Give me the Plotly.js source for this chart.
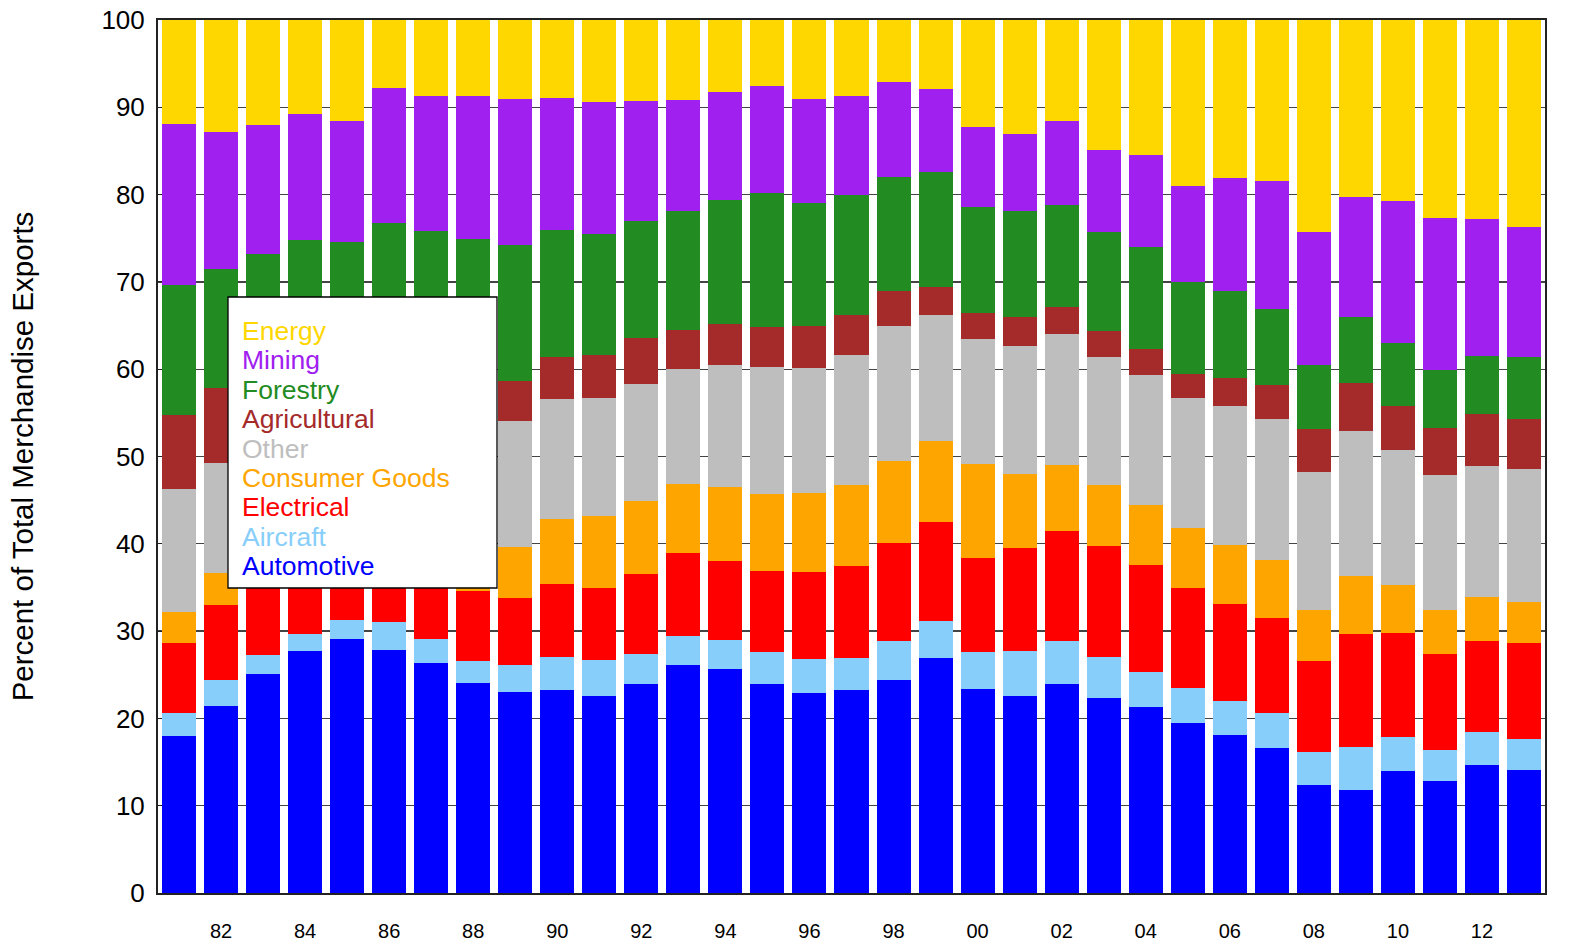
<!DOCTYPE html>
<html>
<head>
<meta charset="utf-8">
<script src="https://cdn.plot.ly/plotly-3.0.1.min.js"></script>
<style>html,body{margin:0;padding:0;background:#fff;}#chart{width:1569px;height:945px;}</style>
</head>
<body>
<div id="chart"></div>
<script>
const years = [1981,1982,1983,1984,1985,1986,1987,1988,1989,1990,1991,1992,1993,1994,1995,1996,1997,1998,1999,2000,2001,2002,2003,2004,2005,2006,2007,2008,2009,2010,2011,2012,2013];
const xTickYears = [1982,1984,1986,1988,1990,1992,1994,1996,1998,2000,2002,2004,2006,2008,2010,2012];
const xTickLabels = ["82","84","86","88","90","92","94","96","98","00","02","04","06","08","10","12"];

const automotive = [18.0,21.4,25.1,27.7,29.1,27.8,26.3,24.1,23.0,23.3,22.6,23.9,26.1,25.7,23.9,22.9,23.3,24.4,26.9,23.4,22.6,23.9,22.3,21.3,19.5,18.1,16.6,12.4,11.8,14.0,12.8,14.7,14.1];
const aircraft = [2.6,3.0,2.2,2.0,2.2,3.2,2.8,2.5,3.1,3.7,4.1,3.5,3.3,3.3,3.7,3.9,3.6,4.5,4.3,4.2,5.1,5.0,4.7,4.0,4.0,3.9,4.0,3.8,4.9,3.9,3.6,3.7,3.5];
const electrical = [8.0,8.6,8.2,6.8,5.7,5.5,6.4,8.0,7.7,8.4,8.2,9.1,9.5,9.0,9.3,10.0,10.6,11.2,11.3,10.8,11.8,12.6,12.7,12.3,11.4,11.1,10.9,10.4,13.0,11.9,11.0,10.5,11.0];
const consumerGoods = [3.6,3.7,3.0,3.0,3.0,3.5,3.5,3.9,5.8,7.4,8.3,8.4,8.0,8.5,8.8,9.0,9.2,9.4,9.3,10.7,8.5,7.5,7.0,6.8,6.9,6.8,6.6,5.8,6.6,5.5,5.0,5.0,4.7];
const other = [14.1,12.6,12.0,11.5,12.0,13.0,14.0,15.0,14.5,13.8,13.5,13.4,13.1,14.0,14.6,14.3,14.9,15.4,14.4,14.4,14.7,15.0,14.7,14.9,14.9,15.9,16.2,15.8,16.6,15.4,15.5,15.0,15.3];
const agricultural = [8.5,8.6,9.0,9.5,9.0,9.0,8.5,7.0,4.5,4.8,4.9,5.3,4.5,4.7,4.5,4.9,4.6,4.1,3.2,2.9,3.3,3.1,3.0,3.0,2.8,3.2,3.9,4.9,5.5,5.1,5.4,6.0,5.7];
const forestry = [14.8,13.6,13.7,14.3,13.6,14.7,14.3,14.4,15.6,14.6,13.9,13.4,13.6,14.2,15.4,14.0,13.7,13.0,13.2,12.2,12.1,11.7,11.3,11.7,10.5,10.0,8.7,7.4,7.6,7.2,6.6,6.6,7.1];
const mining = [18.5,15.7,14.8,14.4,13.8,15.5,15.5,16.4,16.7,15.1,15.1,13.7,12.7,12.4,12.2,11.9,11.4,10.9,9.5,9.2,8.8,9.6,9.4,10.5,11.0,12.9,14.7,15.2,13.7,16.3,17.4,15.7,14.9];
const energy = [11.9,12.8,12.0,10.8,11.6,7.8,8.7,8.7,9.1,8.9,9.4,9.3,9.2,8.2,7.6,9.1,8.7,7.1,7.9,12.2,13.1,11.6,14.9,15.5,19.0,18.1,18.4,24.3,20.3,20.7,22.7,22.8,23.7];

const seriesNames = ["Automotive","Aircraft","Electrical","Consumer Goods","Other","Agricultural","Forestry","Mining","Energy"];
const seriesValues = [automotive, aircraft, electrical, consumerGoods, other, agricultural, forestry, mining, energy];
const seriesColors = ["#0000FF","#87CEFA","#FF0000","#FFA500","#BEBEBE","#A52A2A","#228B22","#A020F0","#FFD700"];

const FONT = "Liberation Sans, Arial, Helvetica, sans-serif";

const traces = seriesNames.map((name, i) => ({
  type: "bar",
  name: name,
  x: years,
  y: seriesValues[i],
  marker: {color: seriesColors[i], line: {width: 0}},
  showlegend: false,
  hoverinfo: "name+x+y"
}));

const plotTop = 20, plotBottom = 893, plotLeft = 158, plotRight = 1545;
const ph = plotBottom - plotTop, pw = plotRight - plotLeft;
const toPX = px => (px - plotLeft) / pw;
const toPY = py => (plotBottom - py) / ph;

const legendOrder = seriesNames.map((n, i) => i).reverse();
const annotations = legendOrder.map((idx, k) => ({
  xref: "paper", yref: "paper",
  x: toPX(240), y: toPY(331 + k * 29.4),
  xanchor: "left", yanchor: "middle",
  text: seriesNames[idx],
  showarrow: false,
  font: {family: FONT, size: 26.5, color: seriesColors[idx]}
}));

const layout = {
  width: 1569, height: 945,
  margin: {l: plotLeft, r: 1569 - plotRight, t: plotTop, b: 945 - plotBottom},
  paper_bgcolor: "#ffffff",
  plot_bgcolor: "#ffffff",
  barmode: "stack",
  bargap: 0.19,
  font: {family: FONT, color: "#000"},
  xaxis: {
    type: "linear",
    range: [1980.5, 2013.5],
    tickvals: xTickYears,
    ticktext: xTickLabels,
    ticks: "outside", ticklen: 19, tickcolor: "rgba(0,0,0,0)",
    tickfont: {family: FONT, size: 20, color: "#000"},
    showgrid: false, zeroline: false,
    showline: true, mirror: true, linecolor: "#222", linewidth: 2
  },
  yaxis: {
    range: [0, 100],
    tickvals: [0,10,20,30,40,50,60,70,80,90,100],
    ticks: "inside", ticklen: 4, tickcolor: "#222",
    ticklabelstandoff: 6,
    tickfont: {family: FONT, size: 26, color: "#000"},
    showgrid: true, gridcolor: "#444", gridwidth: 1.4,
    zeroline: false,
    showline: true, mirror: true, linecolor: "#222", linewidth: 2,
    title: {text: "Percent of Total Merchandise Exports", font: {family: FONT, size: 29.5, color: "#000"}, standoff: 59}
  },
  shapes: [{
    type: "rect", xref: "paper", yref: "paper", layer: "above",
    x0: toPX(228), x1: toPX(497), y0: toPY(588), y1: toPY(297),
    fillcolor: "#ffffff", line: {color: "#000", width: 1.3}
  }],
  annotations: annotations
};

Plotly.newPlot("chart", traces, layout, {displayModeBar: false, staticPlot: true});
</script>
</body>
</html>
